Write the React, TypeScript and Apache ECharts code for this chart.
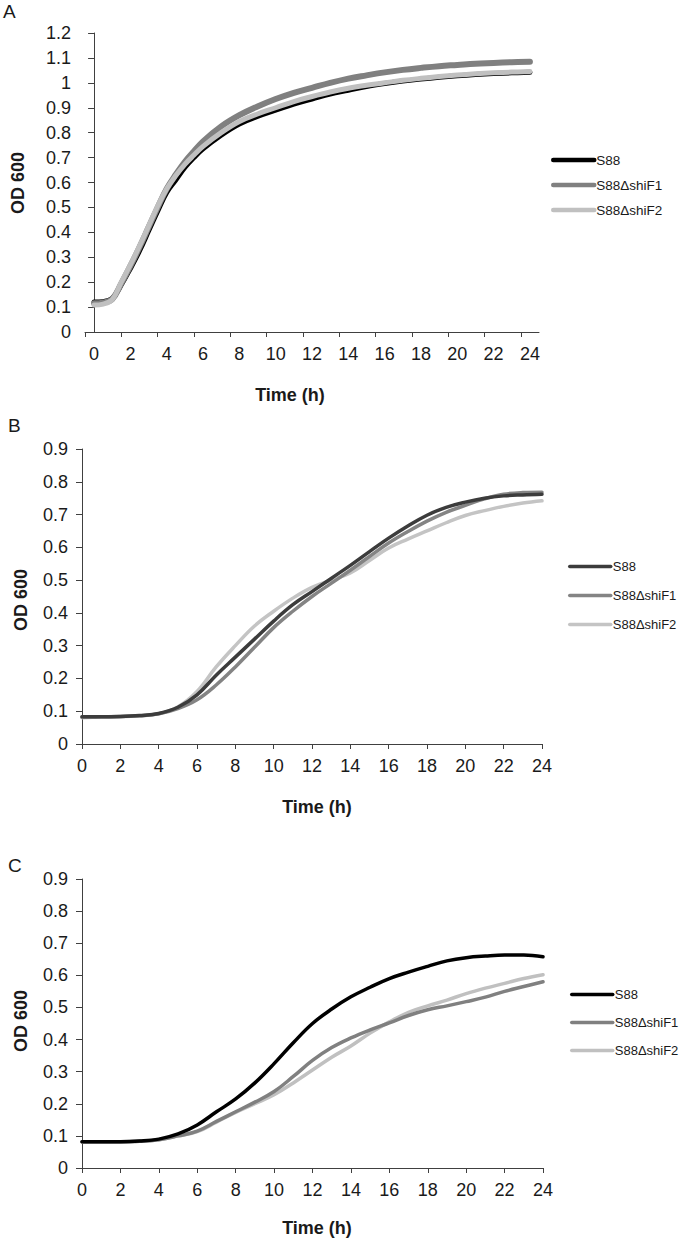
import React, { useEffect, useRef } from "react";
import * as echarts from "echarts";

// ---- Data ----
const seriesNames = ["S88", "S88ΔshiF1", "S88ΔshiF2"];

// Panel A
const timeA = [0, 0.5, 1, 1.5, 2, 2.5, 3, 3.5, 4, 4.5, 5, 5.5, 6, 7, 8, 9, 10, 11, 12, 13, 14, 15, 16, 17, 18, 19, 20, 21, 22, 23, 24];
const a_S88 = [0.12, 0.122, 0.135, 0.19, 0.255, 0.325, 0.405, 0.485, 0.56, 0.61, 0.66, 0.7, 0.735, 0.79, 0.835, 0.865, 0.89, 0.915, 0.935, 0.955, 0.97, 0.985, 0.997, 1.007, 1.015, 1.022, 1.028, 1.033, 1.037, 1.04, 1.042];
const a_F1 = [0.115, 0.118, 0.132, 0.195, 0.265, 0.34, 0.42, 0.5, 0.575, 0.632, 0.683, 0.725, 0.765, 0.825, 0.87, 0.905, 0.935, 0.96, 0.98, 1.0, 1.017, 1.03, 1.042, 1.052, 1.06, 1.067, 1.072, 1.077, 1.08, 1.083, 1.085];
const a_F2 = [0.108, 0.112, 0.13, 0.2, 0.27, 0.345, 0.425, 0.505, 0.575, 0.628, 0.673, 0.71, 0.745, 0.8, 0.845, 0.875, 0.9, 0.925, 0.945, 0.963, 0.978, 0.99, 1.0, 1.01, 1.018, 1.025, 1.031, 1.036, 1.04, 1.043, 1.045];

// Panel B
const timeB = [0, 1, 2, 3, 4, 5, 6, 7, 8, 9, 10, 11, 12, 13, 14, 15, 16, 17, 18, 19, 20, 21, 22, 23, 24];
const b_S88 = [0.083, 0.083, 0.084, 0.087, 0.093, 0.112, 0.15, 0.21, 0.265, 0.32, 0.375, 0.425, 0.465, 0.505, 0.545, 0.587, 0.628, 0.665, 0.698, 0.722, 0.738, 0.75, 0.757, 0.76, 0.762];
const b_F1 = [0.082, 0.083, 0.084, 0.086, 0.092, 0.108, 0.135, 0.18, 0.235, 0.295, 0.355, 0.405, 0.45, 0.49, 0.53, 0.572, 0.613, 0.648, 0.68, 0.707, 0.728, 0.748, 0.762, 0.767, 0.768];
const b_F2 = [0.08, 0.082, 0.083, 0.086, 0.092, 0.113, 0.16, 0.235, 0.3, 0.36, 0.405, 0.445, 0.478, 0.5, 0.522, 0.56, 0.598, 0.625, 0.65, 0.675, 0.697, 0.712, 0.725, 0.735, 0.742];

// Panel C
const timeC = [0, 1, 2, 3, 4, 5, 6, 7, 8, 9, 10, 11, 12, 13, 14, 15, 16, 17, 18, 19, 20, 21, 22, 23, 24];
const c_S88 = [0.082, 0.082, 0.082, 0.084, 0.09, 0.106, 0.134, 0.175, 0.215, 0.265, 0.325, 0.39, 0.45, 0.495, 0.533, 0.563, 0.59, 0.61, 0.628, 0.645, 0.655, 0.66, 0.663, 0.663, 0.658];
const c_F1 = [0.082, 0.082, 0.082, 0.083, 0.088, 0.1, 0.115, 0.145, 0.175, 0.205, 0.238, 0.285, 0.335, 0.375, 0.405, 0.43, 0.452, 0.475, 0.493, 0.505, 0.518, 0.532, 0.55, 0.565, 0.58];
const c_F2 = [0.08, 0.08, 0.081, 0.083, 0.088, 0.1, 0.113, 0.143, 0.173, 0.2, 0.228, 0.265, 0.305, 0.345, 0.38, 0.42, 0.455, 0.485, 0.505, 0.523, 0.543, 0.56, 0.575, 0.59, 0.602];

// Tick labels
const xLabels = [0, 2, 4, 6, 8, 10, 12, 14, 16, 18, 20, 22, 24];
const xTicksA = [-0.5, 1.5, 3.5, 5.5, 7.5, 9.5, 11.5, 13.5, 15.5, 17.5, 19.5, 21.5, 23.5];

const FONT = "Liberation Sans, Arial, sans-serif";
const AXIS_COLOR = "#404040";
const TEXT_COLOR = "#1a1a1a";

const colorsA = ["#000000", "#808080", "#c0c0c0"];
const colorsB = ["#3c3c3c", "#848484", "#c4c4c4"];
const colorsC = ["#000000", "#808080", "#c0c0c0"];

function pairs(t: number[], v: number[]) {
  return t.map((x, i) => [x, v[i]]);
}

export default function App() {
  const ref = useRef<HTMLDivElement>(null);
  useEffect(() => {
    if (!ref.current) return;
    const chart = echarts.init(ref.current, undefined, { renderer: "svg" });

    const grids = [
      { left: 85, top: 33, width: 454, height: 299 },
      { left: 82, top: 449, width: 460, height: 295 },
      { left: 82, top: 879, width: 461, height: 289 },
    ];

    const axisLine = { show: true, lineStyle: { color: AXIS_COLOR, width: 1 } };
    const labelStyle = { color: TEXT_COLOR, fontSize: 18, fontFamily: FONT };

    const xAxes: any[] = [
      {
        type: "value",
        gridIndex: 0,
        min: -0.5,
        max: 24.5,
        axisLine,
        axisTick: { show: true, length: 5, lineStyle: { color: AXIS_COLOR }, customValues: xTicksA },
        axisLabel: { ...labelStyle, margin: 13, customValues: xLabels },
        splitLine: { show: false },
      },
      ...[1, 2].map((g) => ({
        type: "value",
        gridIndex: g,
        min: 0,
        max: 24,
        interval: 2,
        axisLine,
        axisTick: { show: true, length: 5, lineStyle: { color: AXIS_COLOR } },
        axisLabel: { ...labelStyle, margin: 13 },
        splitLine: { show: false },
      })),
    ];

    const yMax = [1.2, 0.9, 0.9];
    const yAxes: any[] = [0, 1, 2].map((g) => ({
      type: "value",
      gridIndex: g,
      min: 0,
      max: yMax[g],
      interval: 0.1,
      axisLine,
      axisTick: { show: true, length: 6, lineStyle: { color: AXIS_COLOR } },
      axisLabel: { ...labelStyle, margin: 14 },
      splitLine: { show: false },
    }));

    const panels = [
      { t: timeA, vals: [a_S88, a_F1, a_F2], colors: colorsA, widths: [5, 6, 5], z: [2, 3, 4] },
      { t: timeB, vals: [b_S88, b_F1, b_F2], colors: colorsB, widths: [3.5, 3.5, 3.5], z: [4, 3, 2] },
      { t: timeC, vals: [c_S88, c_F1, c_F2], colors: colorsC, widths: [3.5, 3.5, 3.5], z: [4, 3, 2] },
    ];

    const series: any[] = [];
    panels.forEach((p, g) => {
      p.vals.forEach((v, i) => {
        series.push({
          type: "line",
          name: seriesNames[i],
          xAxisIndex: g,
          yAxisIndex: g,
          data: pairs(p.t, v),
          symbol: "none",
          smooth: 0.4,
          z: p.z[i],
          lineStyle: { color: p.colors[i], width: p.widths[i], cap: "round", join: "round" },
          itemStyle: { color: p.colors[i] },
        });
      });
    });

    const legendPos = [
      { left: 551, top: 153, gap: 11, colors: colorsA, width: 4.5, font: 13.5 },
      { left: 568, top: 560, gap: 16, colors: colorsB, width: 3.5, font: 13 },
      { left: 570, top: 988, gap: 15, colors: colorsC, width: 3.5, font: 13 },
    ];
    const legends = legendPos.map((l) => ({
      orient: "vertical",
      left: l.left,
      top: l.top,
      padding: 0,
      itemWidth: 41,
      itemHeight: 14,
      itemGap: l.gap,
      selectedMode: false,
      textStyle: { fontSize: l.font, color: TEXT_COLOR, fontFamily: FONT, padding: [0, 0, 0, -3] },
      data: seriesNames.map((n, i) => ({
        name: n,
        itemStyle: { color: l.colors[i], opacity: 0, borderWidth: 0 },
        lineStyle: { color: l.colors[i], width: l.width, cap: "round", opacity: 1 },
      })),
    }));

    const titleStyle = { fontSize: 18, fontWeight: "bold", fill: TEXT_COLOR, fontFamily: FONT, align: "center", verticalAlign: "middle" };
    const letterStyle = { fontSize: 19, fill: TEXT_COLOR, fontFamily: FONT, align: "left", verticalAlign: "top" };

    const graphic: any[] = [
      { type: "text", left: 3, top: 2, style: { text: "A", ...letterStyle } },
      { type: "text", left: 8, top: 416, style: { text: "B", ...letterStyle } },
      { type: "text", left: 8, top: 856, style: { text: "C", ...letterStyle } },
      { type: "text", x: 18, y: 183, rotation: Math.PI / 2, style: { text: "OD 600", ...titleStyle } },
      { type: "text", x: 21, y: 600, rotation: Math.PI / 2, style: { text: "OD 600", ...titleStyle } },
      { type: "text", x: 21, y: 1021, rotation: Math.PI / 2, style: { text: "OD 600", ...titleStyle } },
      { type: "text", x: 290, y: 395, style: { text: "Time (h)", ...titleStyle } },
      { type: "text", x: 317, y: 807, style: { text: "Time (h)", ...titleStyle } },
      { type: "text", x: 317, y: 1228, style: { text: "Time (h)", ...titleStyle } },
    ];

    chart.setOption({
      animation: false,
      backgroundColor: "#ffffff",
      grid: grids,
      xAxis: xAxes,
      yAxis: yAxes,
      legend: legends,
      series,
      graphic,
    });

    return () => chart.dispose();
  }, []);

  return (
    <div
      ref={ref}
      style={{ position: "absolute", left: 0, top: 0, width: 681, height: 1241, background: "#fff" }}
    />
  );
}
